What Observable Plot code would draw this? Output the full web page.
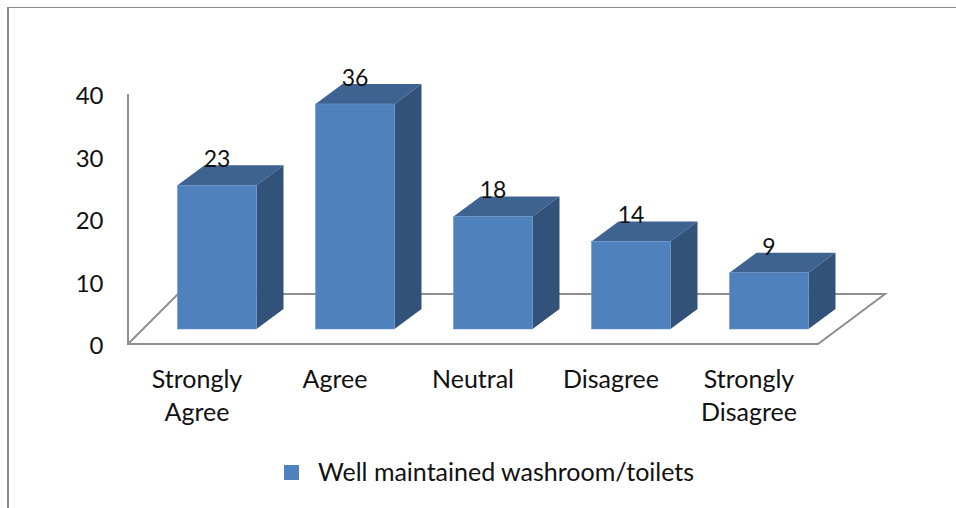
<!DOCTYPE html>
<html>
<head>
<meta charset="utf-8">
<script src="https://cdn.jsdelivr.net/npm/d3@7"></script>
<script src="https://cdn.jsdelivr.net/npm/@observablehq/plot@0.6"></script>
<style>
  html, body { margin: 0; padding: 0; background: #fff; }
  #wrap { position: relative; width: 956px; height: 508px; overflow: hidden; font-family: Lato, sans-serif; color: #111; }
  #frame { position: absolute; left: 7px; top: 7px; right: -4px; bottom: -4px; border-top: 1px solid #8a8a8a; border-left: 2px solid #8a8a8a; }
  #chart { position: absolute; left: 0; top: 0; }
  #chart svg { display: block; }
  #legend { position: absolute; left: 284px; top: 456px; height: 30px; display: flex; align-items: center; white-space: nowrap; font-size: 25px; }
  #legend i { display: block; width: 15px; height: 15px; background: #4f81bd; margin-right: 19px; position: relative; top: 1px; }
</style>
</head>
<body>
<div id="wrap">
  <div id="frame"></div>
  <div id="chart"></div>
  <div id="legend"><i></i><span id="series"></span></div>
</div>
<script>
const seriesName = "Well maintained washroom/toilets";
const categories = ["Strongly\nAgree", "Agree", "Neutral", "Disagree", "Strongly\nDisagree"];
const values = [23, 36, 18, 14, 9];
const yTicks = [0, 10, 20, 30, 40];
const rows = categories.map((category, i) => ({category, value: values[i]}));

const FRONT = "#4f81bd", TOP = "#3e6391", SIDE = "#325279", AXIS = "#8f8f8f";
const floorDx = 67, floorDy = 50;      // floor depth
const barDx = 20.5, barDy = 15;        // bars stand mid-floor
const sideDx = 27, sideDy = 20;        // bar depth

function svgEl(name, attrs) {
  const el = document.createElementNS("http://www.w3.org/2000/svg", name);
  for (const k in attrs) el.setAttribute(k, attrs[k]);
  return el;
}

// Floor and vertical axis, placed through the plot's scales
function floor(index, {x, y}) {
  const [x0, x1] = x.range();
  const y0 = y(0), yMax = y(d3.max(yTicks));
  const g = svgEl("g", {});
  g.appendChild(svgEl("path", {
    d: `M${x0},${yMax}L${x0},${y0}L${x1},${y0}L${x1 + floorDx},${y0 - floorDy}L${x0 + 50},${y0 - floorDy}L${x0},${y0}`,
    fill: "none", stroke: AXIS, "stroke-width": 2
  }));
  return g;
}

// Top and side faces, derived from each bar's scaled position
function faces(index, {x, y}) {
  const g = svgEl("g", {});
  const w = x.bandwidth();
  for (const r of rows) {
    const l = x(r.category) + barDx, rgt = l + w;
    const t = y(r.value) - barDy, b = y(0) - barDy;
    g.appendChild(svgEl("polygon", {
      points: `${l},${t} ${l + sideDx},${t - sideDy} ${rgt + sideDx},${t - sideDy} ${rgt},${t}`,
      fill: TOP
    }));
    g.appendChild(svgEl("polygon", {
      points: `${rgt},${t} ${rgt + sideDx},${t - sideDy} ${rgt + sideDx},${b - sideDy} ${rgt},${b}`,
      fill: SIDE
    }));
  }
  return g;
}

const plot = Plot.plot({
  width: 956,
  height: 450,
  marginTop: 94, marginRight: 138, marginBottom: 106, marginLeft: 128,
  style: {fontFamily: "Lato, sans-serif", fontSize: "25px", color: "#111", background: "transparent", overflow: "visible"},
  x: {domain: categories, paddingInner: 0.4275, paddingOuter: 0.21375, label: null},
  y: {domain: [0, 40], label: null},
  marks: [
    floor,
    faces,
    Plot.barY(rows, {x: "category", y: "value", dx: barDx, dy: -barDy, fill: FRONT, stroke: "#6b97cc", strokeWidth: 0.6}),
    Plot.axisY({ticks: yTicks, tickSize: 0, tickPadding: 25, fontSize: 24, dy: 2, label: null}),
    Plot.axisX({tickSize: 0, tickPadding: 20, fontSize: 25, lineHeight: 1.32, label: null, tickFormat: d => d, lineAnchor: "top"}),
    Plot.text(rows, {x: "category", y: "value", text: d => String(d.value), dx: 20, dy: -barDy - 26, fontSize: 23, fill: "#111", lineAnchor: "middle", textAnchor: "middle"})
  ]
});
document.getElementById("chart").appendChild(plot);
document.getElementById("series").textContent = seriesName;
</script>
</body>
</html>
